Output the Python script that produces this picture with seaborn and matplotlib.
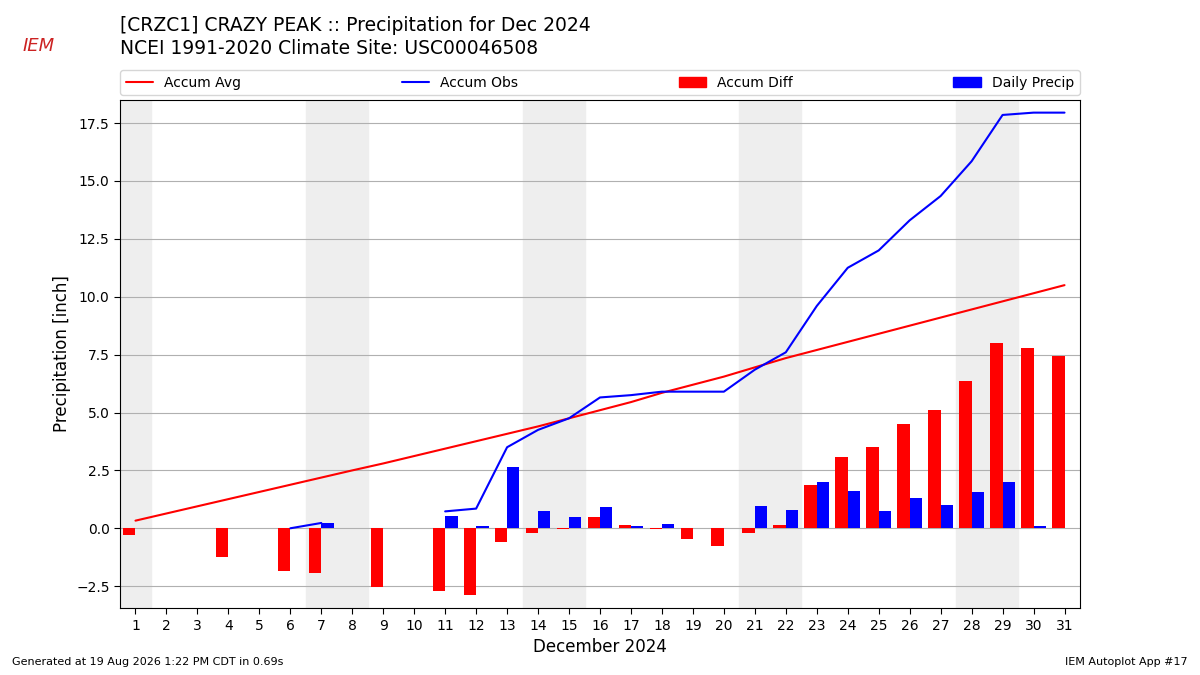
import numpy as np
import pandas as pd
import matplotlib
matplotlib.use("Agg")
import matplotlib.pyplot as plt
import seaborn as sns
from matplotlib.patches import Patch
from matplotlib.lines import Line2D

days = list(range(1, 32))
accum_avg = [0.33, 0.64, 0.95, 1.26, 1.57, 1.88, 2.19, 2.5, 2.8, 3.12, 3.44, 3.76, 4.08,
             4.4, 4.75, 5.1, 5.45, 5.85, 6.2, 6.55, 6.95, 7.35, 7.7, 8.05, 8.4, 8.75, 9.1,
             9.45, 9.8, 10.15, 10.5]
accum_obs = [np.nan] * 5 + [0.0, 0.23, np.nan, np.nan, np.nan, 0.73, 0.85, 3.5, 4.25, 4.75,
             5.65, 5.75, 5.9, 5.9, 5.9, 6.85, 7.6, 9.6, 11.25, 12.0, 13.3, 14.35, 15.85,
             17.85, 17.95, 17.95]
accum_diff = [-0.3, np.nan, np.nan, -1.25, np.nan, -1.85, -1.95, np.nan, -2.55, np.nan,
              -2.7, -2.9, -0.6, -0.2, -0.05, 0.48, 0.15, -0.05, -0.45, -0.75, -0.2, 0.15,
              1.85, 3.1, 3.5, 4.5, 5.1, 6.35, 8.0, 7.8, 7.45]
n = np.nan
daily = [n, n, n, n, n, n, 0.23, n, n, n, 0.52, 0.12, 2.65, 0.75, 0.5, 0.9, 0.08, 0.17,
         n, n, 0.95, 0.78, 2.0, 1.6, 0.75, 1.3, 1.0, 1.55, 2.0, 0.08, n]
weekends = [(0.5, 1.5), (6.5, 8.5), (13.5, 15.5), (20.5, 22.5), (27.5, 29.5)]

sns.set_style("white", {"text.color": "black", "axes.labelcolor": "black",
                        "xtick.color": "black", "ytick.color": "black"})
fig = plt.figure(figsize=(12, 6.75), dpi=100)
ax = fig.add_axes([0.1, 0.099, 0.8, 0.753])

for a, b in weekends:
    ax.axvspan(a, b, color="#eeeeee", zorder=0)

bars = pd.DataFrame({
    "day": days * 2,
    "val": accum_diff + daily,
    "kind": ["Accum Diff"] * 31 + ["Daily Precip"] * 31,
})
sns.barplot(data=bars, x="day", y="val", hue="kind", native_scale=True, dodge=True,
            palette={"Accum Diff": "red", "Daily Precip": "blue"}, width=0.8,
            errorbar=None, legend=False, ax=ax, zorder=3, saturation=1, linewidth=0)

sns.lineplot(x=days, y=accum_avg, color="red", ax=ax, zorder=4)
ax.plot(days, accum_obs, color="blue", zorder=4)

ax.set_xlim(0.5, 31.5)
ax.set_ylim(-3.45, 18.5)
ax.set_xticks(days)
ax.set_xticklabels([str(d) for d in days])
ax.set_yticks(np.arange(-2.5, 17.6, 2.5))
ax.yaxis.grid(True, color="#b0b0b0", zorder=1)
ax.set_axisbelow(True)
for s in ax.spines.values():
    s.set_color("black")
ax.tick_params(axis="both", length=4, direction="out", bottom=True, left=True, labelsize=10)
ax.set_xlabel("December 2024", fontsize=12)
ax.set_ylabel("Precipitation [inch]", fontsize=12)

handles = [Line2D([], [], color="red"), Line2D([], [], color="blue"),
           Patch(color="red"), Patch(color="blue")]
fig.legend(handles, ["Accum Avg", "Accum Obs", "Accum Diff", "Daily Precip"], ncol=4,
           loc="lower left", bbox_to_anchor=(0.1, 0.859, 0.8, 0.04), mode="expand",
           fontsize=10, frameon=True, borderaxespad=0)

fig.text(0.1, 0.962, "[CRZC1] CRAZY PEAK :: Precipitation for Dec 2024", fontsize=13.5, va="center")
fig.text(0.1, 0.928, "NCEI 1991-2020 Climate Site: USC00046508", fontsize=13.5, va="center")
fig.text(0.01, 0.015, "Generated at 19 Aug 2026 1:22 PM CDT in 0.69s", fontsize=8)
fig.text(0.99, 0.015, "IEM Autoplot App #17", fontsize=8, ha="right")
fig.text(0.032, 0.925, "IEM", fontsize=13, color="#cc2222", style="italic", ha="center")

fig.savefig("out.png", dpi=100)
